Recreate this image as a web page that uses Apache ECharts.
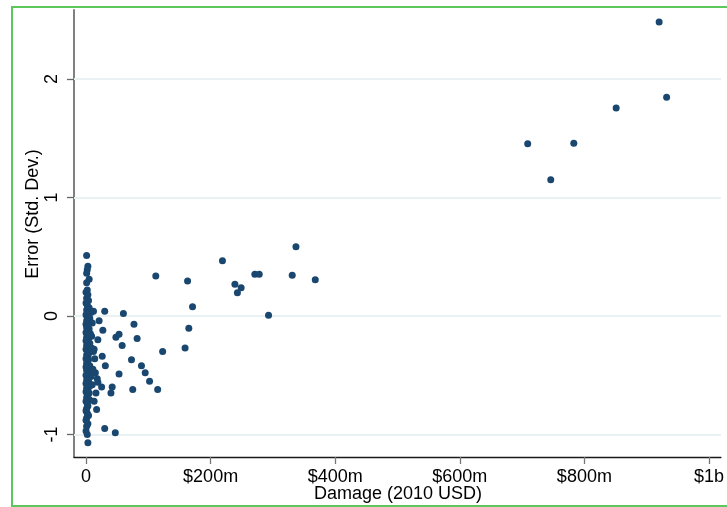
<!DOCTYPE html>
<html>
<head>
<meta charset="utf-8">
<script src="https://cdn.jsdelivr.net/npm/echarts@6/dist/echarts.min.js"></script>
<style>
html,body{margin:0;padding:0;background:#fff;}
#chart{width:727px;height:507px;}
</style>
</head>
<body>
<div id="chart"></div>
<script>
// Damage in $ millions (2010 USD)
const damage = [
  920, 932, 851, 783, 709, 746,
  337, 219, 112, 163, 271, 278, 331, 368, 239, 249, 243, 171, 293, 165, 159, 123,
  115, 102, 95, 89, 73, 75, 53, 42, 40, 31, 26, 82, 77, 58, 53, 48, 60, 30, 27, 25,
  21, 19, 13, 15, 18, 16, 6, 17, 30, 47, 19,
  1, 3, 2, 1, 5, 1, 2, 0, 3, 1, 4, 0, 2, 5, 1, 3, 8, 0, 2, 6, 1, 4, 10, 0, 3, 1, 5,
  2, 0, 7, 3, 1, 4, 0, 2, 6, 1, 3, 9, 0, 2, 5, 1, 3, 0, 4, 2, 1, 6, 0, 3, 1, 5, 2,
  0, 8, 3, 1, 4, 0, 2, 6, 1, 3, 0, 5, 2, 1, 4, 0, 2, 3, 1, 0, 2, 4, 1, 0, 3, 1, 0,
  2, 3,
  11, 12, 10, 13, 12, 9, 14
];
// Error in standard deviations
const errorSD = [
  2.48, 1.845, 1.755, 1.457, 1.454, 1.15,
  0.585, 0.467, 0.338, 0.295, 0.352, 0.352, 0.343, 0.306, 0.268, 0.239, 0.197, 0.078, 0.006, -0.104, -0.27, -0.30,
  -0.62, -0.55, -0.48, -0.42, -0.37, -0.62, -0.49, -0.60, -0.65, -0.42, -0.34, -0.19, -0.07, -0.25, -0.155, -0.18, 0.02, 0.04, -0.12, -0.60,
  -0.04, -0.20, -0.28, -0.48, -0.53, -0.65, -0.71, -0.79, -0.95, -0.985, -0.56,
  0.51, 0.42, 0.39, 0.36, 0.31, 0.28, 0.22, 0.20, 0.18, 0.15, 0.13, 0.11, 0.09, 0.07, 0.05, 0.03, 0.03, 0.01, -0.01, -0.02, -0.04, -0.05, -0.06, -0.07, -0.08, -0.10, -0.11,
  -0.13, -0.14, -0.15, -0.16, -0.18, -0.19, -0.21, -0.22, -0.23, -0.25, -0.26, -0.27, -0.28, -0.30, -0.31, -0.33, -0.34, -0.36, -0.37, -0.39, -0.40, -0.42, -0.43, -0.44, -0.46, -0.47, -0.49,
  -0.50, -0.51, -0.52, -0.54, -0.55, -0.57, -0.58, -0.59, -0.61, -0.62, -0.64, -0.65, -0.67, -0.69, -0.70, -0.72, -0.74, -0.76, -0.78, -0.80, -0.82, -0.84, -0.86, -0.88, -0.91, -0.93, -0.97,
  -1.00, -1.07,
  -0.45, -0.30, -0.58, -0.72, 0.04, -0.17, -0.36
];
const xTickValues = [0, 200, 400, 600, 800, 1000];
const xTickLabels = ['0', '$200m', '$400m', '$600m', '$800m', '$1b'];
const yTickValues = [-1, 0, 1, 2];
const yTickLabels = ['-1', '0', '1', '2'];
const xTitle = 'Damage (2010 USD)';
const yTitle = 'Error (Std. Dev.)';

const points = damage.map((d, i) => [d, errorSD[i]]);
const FONT = "'Liberation Sans', Arial, Helvetica, sans-serif";

function labelFor(values, labels, v) {
  const i = values.findIndex(t => Math.abs(t - v) < 1e-6);
  return i >= 0 ? labels[i] : '';
}

const chart = echarts.init(document.getElementById('chart'), null, {renderer: 'canvas'});
chart.setOption({
  animation: false,
  backgroundColor: '#ffffff',
  grid: {left: 74, top: 10, right: 6, bottom: 50, containLabel: false},
  xAxis: {
    type: 'value',
    min: -19.3,
    max: 1019.2,
    axisLine: {show: true, onZero: false, lineStyle: {color: '#1a1a1a', width: 1.3}},
    axisTick: {show: true, customValues: xTickValues, length: 7, lineStyle: {color: '#777', width: 1.3}},
    axisLabel: {
      show: true,
      customValues: xTickValues,
      margin: 11,
      fontFamily: FONT,
      fontSize: 18,
      color: '#000',
      formatter: v => labelFor(xTickValues, xTickLabels, v)
    },
    splitLine: {show: false}
  },
  yAxis: {
    type: 'value',
    min: -1.19,
    max: 2.582,
    axisLine: {show: true, onZero: false, lineStyle: {color: '#808080', width: 2}},
    axisTick: {show: true, customValues: yTickValues, length: 7, lineStyle: {color: '#666', width: 1.3}},
    axisLabel: {
      show: true,
      customValues: yTickValues,
      rotate: 90,
      margin: 13,
      fontFamily: FONT,
      fontSize: 18,
      color: '#000',
      formatter: v => labelFor(yTickValues, yTickLabels, v)
    },
    splitLine: {show: false}
  },
  graphic: [
    {
      type: 'rect',
      shape: {x: 12, y: 7, width: 730, height: 499},
      style: {fill: 'none', stroke: '#5cc85c', lineWidth: 2},
      silent: true,
      z: 100
    },
    {
      type: 'text',
      x: 33, y: 214,
      rotation: Math.PI / 2,
      style: {text: yTitle, fontFamily: FONT, fontSize: 18, fill: '#000', textAlign: 'center', textVerticalAlign: 'middle'},
      silent: true
    },
    {
      type: 'text',
      x: 398, y: 494,
      style: {text: xTitle, fontFamily: FONT, fontSize: 18, fill: '#000', textAlign: 'center', textVerticalAlign: 'middle'},
      silent: true
    }
  ],
  series: [
    {
      type: 'scatter',
      data: points,
      symbol: 'circle',
      symbolSize: 7,
      itemStyle: {color: '#1a476f', opacity: 1},
      z: 3,
      markLine: {
        silent: true,
        symbol: 'none',
        z: 1,
        label: {show: false},
        lineStyle: {color: '#eaf1f3', width: 2, type: 'solid'},
        data: yTickValues.map(v => ({yAxis: v}))
      }
    }
  ]
});
</script>
</body>
</html>
